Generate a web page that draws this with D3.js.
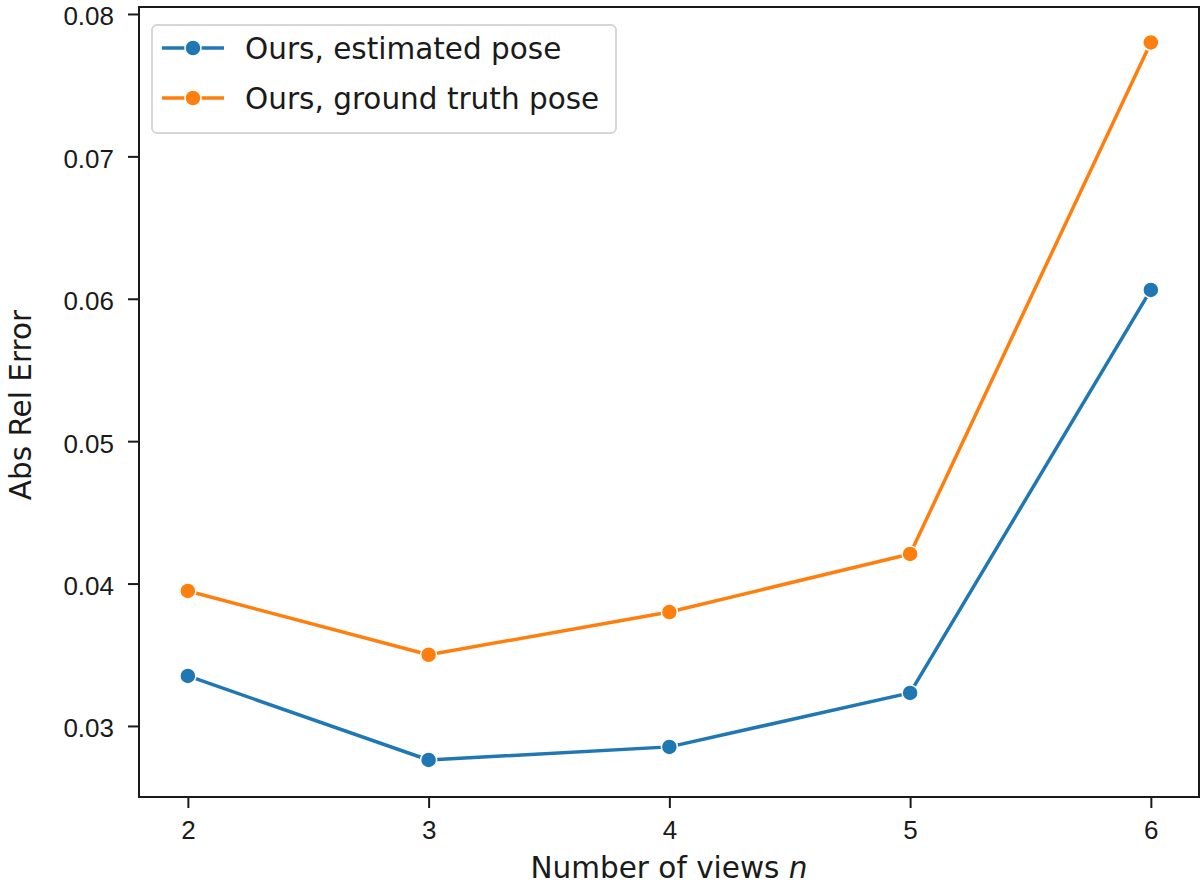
<!DOCTYPE html>
<html>
<head>
<meta charset="utf-8">
<script src="https://cdn.jsdelivr.net/npm/d3@7"></script>
<style>
  html, body { margin: 0; padding: 0; background: #fff; }
  svg { display: block; font-family: "DejaVu Sans", sans-serif; }
</style>
</head>
<body>
<div id="chart"></div>
<script>
const views = [2, 3, 4, 5, 6];
const estimatedPose = [0.03351, 0.02761, 0.02853, 0.03232, 0.06062];
const groundTruthPose = [0.03948, 0.0350, 0.0380, 0.04208, 0.0780];
const yTicks = [0.03, 0.04, 0.05, 0.06, 0.07, 0.08];
const seriesNames = ['Ours, estimated pose', 'Ours, ground truth pose'];
const seriesColors = ['#1f77b4', '#ff7f0e'];

const width = 1201, height = 886;
const margin = { left: 139, right: 2, top: 7, bottom: 89 };

const svg = d3.select('#chart').append('svg')
  .attr('width', width).attr('height', height);

const x = d3.scaleLinear().domain([1.797, 6.2]).range([margin.left, width - margin.right]);
const y = d3.scaleLinear().domain([0.02501, 0.08049]).range([height - margin.bottom, margin.top]);

const tickFont = 26;
const labelFont = 29.5;
const textColor = '#1a1a1a';

// Axes
const xAxis = svg.append('g')
  .attr('transform', `translate(0,${height - margin.bottom})`)
  .call(d3.axisBottom(x).tickValues(views).tickFormat(d3.format('d')).tickSize(11).tickPadding(13));
const yAxis = svg.append('g')
  .attr('transform', `translate(${margin.left},0)`)
  .call(d3.axisLeft(y).tickValues(yTicks).tickFormat(d3.format('.2f')).tickSize(11).tickPadding(14));

[xAxis, yAxis].forEach(g => {
  g.select('.domain').remove();
  g.selectAll('.tick line').attr('stroke', textColor).attr('stroke-width', 2);
  g.selectAll('.tick text').attr('fill', textColor).style('font-size', tickFont + 'px');
});
yAxis.selectAll('.tick text').attr('dy', '0.42em');

// Frame
svg.append('rect')
  .attr('x', margin.left).attr('y', margin.top)
  .attr('width', width - margin.left - margin.right)
  .attr('height', height - margin.top - margin.bottom)
  .attr('fill', 'none').attr('stroke', textColor).attr('stroke-width', 2);

// Axis labels
const xLabel = svg.append('text')
  .attr('x', 669)
  .attr('y', 878)
  .attr('text-anchor', 'middle')
  .attr('fill', textColor)
  .style('font-size', labelFont + 'px');
xLabel.append('tspan').text('Number of views ');
xLabel.append('tspan').style('font-style', 'italic').text('n');

svg.append('text')
  .attr('transform', `translate(31,405) rotate(-90)`)
  .attr('text-anchor', 'middle')
  .attr('fill', textColor)
  .style('font-size', labelFont + 'px')
  .text('Abs Rel Error');

// Lines
const allSeries = [estimatedPose, groundTruthPose];
const line = d3.line().x((d, i) => x(views[i])).y(d => y(d));

allSeries.forEach((vals, si) => {
  svg.append('path')
    .attr('d', line(vals))
    .attr('fill', 'none')
    .attr('stroke', seriesColors[si])
    .attr('stroke-width', 3.5)
    .attr('stroke-linejoin', 'round');
  svg.selectAll(null)
    .data(vals)
    .join('circle')
    .attr('cx', (d, i) => x(views[i]))
    .attr('cy', d => y(d))
    .attr('r', 8)
    .attr('fill', seriesColors[si])
    .attr('stroke', '#fff')
    .attr('stroke-width', 1.5);
});

// Legend
const legend = svg.append('g').attr('transform', 'translate(152,25)');
legend.append('rect')
  .attr('width', 464).attr('height', 108)
  .attr('rx', 5)
  .attr('fill', '#fff').attr('fill-opacity', 0.8)
  .attr('stroke', '#d6d6d6').attr('stroke-width', 2);
seriesNames.forEach((name, i) => {
  const row = legend.append('g').attr('transform', `translate(0,${23 + i * 50})`);
  row.append('line')
    .attr('x1', 10).attr('x2', 72)
    .attr('stroke', seriesColors[i]).attr('stroke-width', 3.5);
  row.append('circle')
    .attr('cx', 41).attr('r', 8)
    .attr('fill', seriesColors[i])
    .attr('stroke', '#fff').attr('stroke-width', 1.5);
  row.append('text')
    .attr('x', 93).attr('dy', '0.36em')
    .attr('fill', textColor)
    .style('font-size', labelFont + 'px')
    .text(name);
});
</script>
</body>
</html>
